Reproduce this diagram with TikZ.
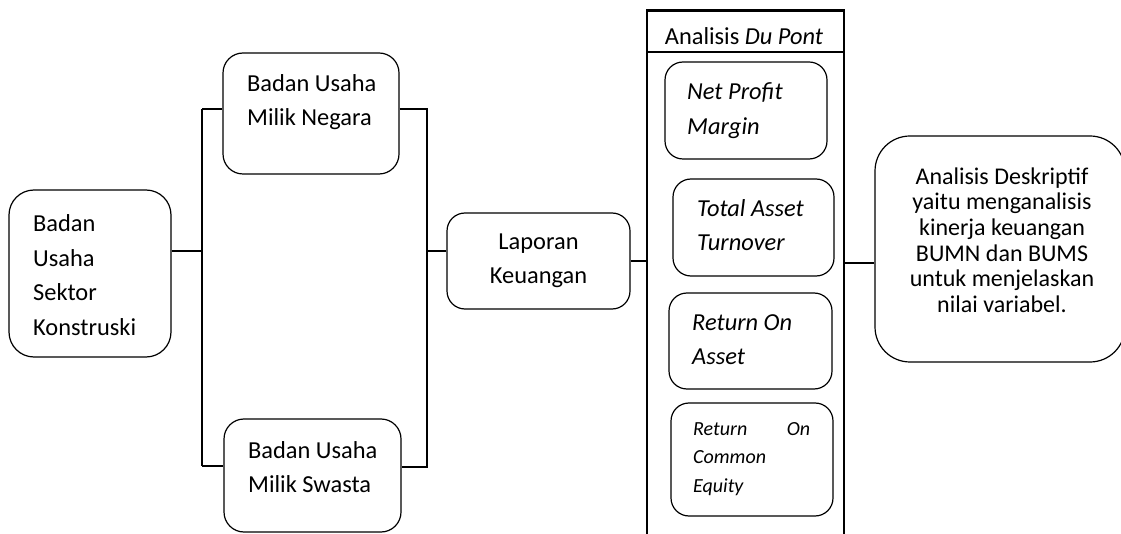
\documentclass[tikz,border=0pt]{standalone}
\usepackage{fontspec}
\setmainfont{Carlito}
\begin{document}
\begin{tikzpicture}[x=1pt,y=-1pt,
  lw/.style={line width=1.2pt},
  rbox/.style={draw, lw, rounded corners=#1, inner sep=0pt},
  rbox/.default=20pt,
  txt/.style={inner sep=0pt, font=\fontsize{24.4}{34.5}\selectfont, align=left},
  itx/.style={txt, font=\fontsize{24.4}{34.5}\selectfont\itshape},
  conn/.style={draw, lw}]
\useasboundingbox (0,0) rectangle (1121,534);
\begin{scope}
\clip (0,0) rectangle (1121,534);
% boxes
\node[rbox=25pt, minimum width=162pt, minimum height=167pt] (sek) at (90,273.5) {};
\node[rbox, minimum width=176pt, minimum height=121pt] (bumn) at (311,113.5) {};
\node[rbox, minimum width=177pt, minimum height=113pt] (bums) at (312.5,475.5) {};
\node[rbox=18pt, minimum width=183pt, minimum height=96pt] (lap) at (538.5,261) {};
\node[draw, lw, inner sep=0pt, minimum width=197pt, minimum height=535pt] (col) at (745.5,277.5) {};
\node[draw, lw, inner sep=0pt, minimum width=197pt, minimum height=42pt] (head) at (745.5,31) {};
\draw[lw] ([yshift=-2.2pt]col.north west) -- ([yshift=-2.2pt]col.north east);
\node[rbox=18pt, minimum width=162pt, minimum height=97pt] (npm) at (746,110.5) {};
\node[rbox=18pt, minimum width=161pt, minimum height=97pt] (tat) at (753.5,227.5) {};
\node[rbox=18pt, minimum width=163pt, minimum height=96pt] (roa) at (750.5,341) {};
\node[rbox=18pt, minimum width=162pt, minimum height=113pt] (roce) at (752,459.5) {};
\node[rbox=35pt, minimum width=250pt, minimum height=226pt] (desc) at (1000,249) {};
% texts
\node[txt, anchor=west] (tsek) at (33,275) {Badan\\Usaha\\Sektor\\Konstruski};
\node[txt, anchor=west] (tbumn) at (247,102) {Badan Usaha\\Milik Negara};
\node[txt, anchor=west] (tbums) at (248,467) {Badan Usaha\\Milik Swasta};
\node[txt, align=center] (tlap) at (538.5,261) {Laporan\\Keuangan};
\node[txt] (thead) at (744,36) {Analisis \textit{Du Pont}};
\node[itx, anchor=west] (tnpm) at (687,110.5) {Net Profit\\Margin};
\node[itx, anchor=west] (ttat) at (697,225) {Total Asset\\Turnover};
\node[itx, anchor=west] (troa) at (692,339.5) {Return On\\Asset};
\node[inner sep=0pt, anchor=west, align=left, font=\fontsize{20}{28.5}\selectfont\itshape] (troce) at (693,459) {\makebox[117pt][l]{Return\hfill On}\\Common\\Equity};
\node[inner sep=0pt, align=center, font=\fontsize{24}{25.6}\selectfont] (tdesc) at (1002,240) {Analisis Deskriptif\\yaitu menganalisis\\kinerja keuangan\\BUMN dan BUMS\\untuk menjelaskan\\nilai variabel.};
% connectors
\coordinate (lt) at (202,109);
\coordinate (lb) at (202,466);
\coordinate (rt) at (427,109);
\coordinate (rb) at (427,467);
\coordinate (jl) at (202,251);
\coordinate (jr) at (427,251);
\draw[conn] (sek.east |- jl) -- (jl);
\draw[conn] (lt) -- (lb);
\draw[conn] (lt) -- (lt -| bumn.west);
\draw[conn] (lb) -- (lb -| bums.west);
\draw[conn] (rt -| bumn.east) -- (rt) -- (rb) -- (rb -| bums.east);
\draw[conn] (jr) -- (jr -| lap.west);
\draw[conn] (lap.east) -- (lap.east -| col.west);
\coordinate (jd) at (844,263);
\draw[conn] (jd -| col.east) -- (jd -| desc.west);
\end{scope}
\end{tikzpicture}
\end{document}
